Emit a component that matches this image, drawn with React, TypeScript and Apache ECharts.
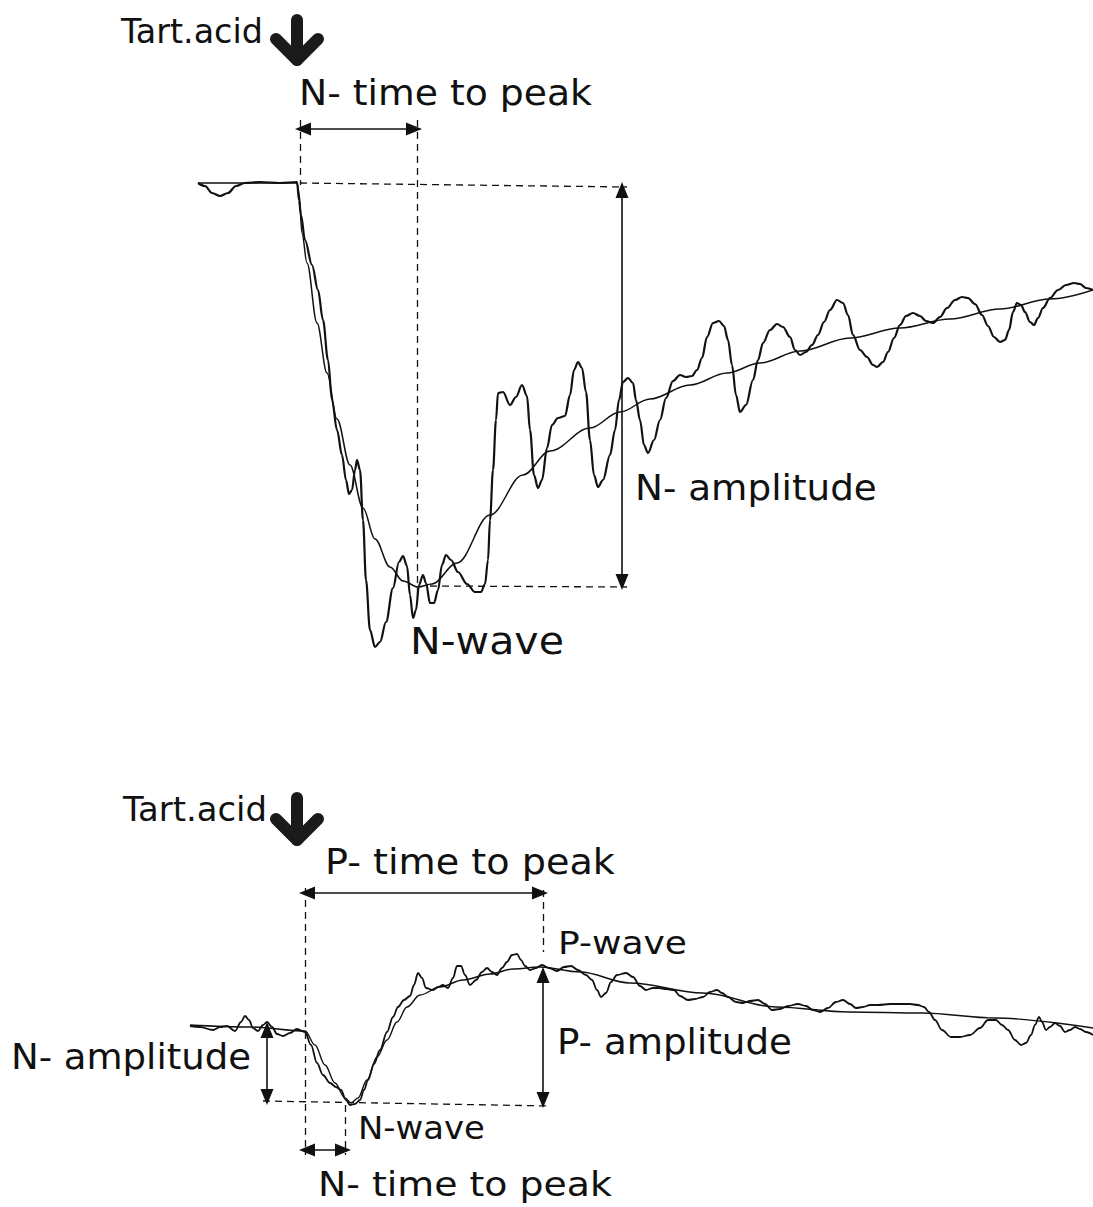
import React, { useEffect, useRef } from "react";
import * as echarts from "echarts";

// ---- Top panel: N-wave (time relative to acid application, amplitude relative to baseline)
const topRecording: [number, number][] = [
  [-102, 0], [-95, -3], [-88, -10], [-80, -13], [-72, -10], [-64, -3], [-55, 0], [-40, 1], [-20, 0], [-3, 1],
  [-1, -17], [1, -32], [5, -57], [12, -82], [18, -107], [23, -137], [28, -177], [32, -217], [37, -247], [42, -272],
  [46, -297], [49, -311], [52, -307], [55, -287], [57, -277], [60, -287], [63, -337], [66, -397], [70, -447], [75, -464],
  [80, -459], [86, -439], [93, -405], [99, -379], [103, -373], [107, -383], [110, -412], [113, -435], [116, -427], [119, -402],
  [123, -392], [126, -400], [130, -420], [134, -420], [138, -407], [142, -382], [146, -372], [151, -377], [158, -389], [167, -401],
  [175, -409], [181, -409], [185, -401], [188, -377], [190, -337], [193, -287], [196, -237], [198, -210], [203, -209], [210, -222],
  [216, -214], [222, -202], [227, -213], [230, -247], [234, -292], [238, -305], [242, -297], [247, -265], [252, -242], [258, -235],
  [265, -233], [270, -212], [274, -187], [278, -179], [282, -185], [286, -209], [290, -257], [294, -292], [298, -304], [303, -297],
  [310, -272], [315, -247], [319, -217], [323, -199], [328, -195], [333, -200], [336, -217], [340, -237], [344, -262], [348, -270],
  [354, -257], [360, -237], [366, -215], [373, -198], [380, -192], [386, -194], [392, -193], [397, -187], [402, -175], [407, -154],
  [413, -140], [419, -138], [424, -143], [428, -157], [432, -182], [436, -212], [440, -229], [446, -222], [453, -197], [458, -177],
  [463, -160], [470, -147], [477, -141], [483, -144], [490, -154], [495, -167], [500, -172], [506, -169], [512, -162], [518, -152],
  [524, -139], [530, -127], [537, -117], [543, -120], [548, -132], [553, -152], [560, -167], [567, -174], [573, -182], [577, -184],
  [583, -179], [588, -169], [594, -155], [600, -142], [606, -133], [613, -130], [620, -133], [626, -138], [633, -140], [640, -134],
  [647, -125], [655, -117], [662, -114], [668, -115], [675, -121], [682, -132], [688, -143], [694, -154], [700, -159], [705, -157],
  [709, -147], [713, -129], [717, -120], [721, -122], [725, -129], [730, -139], [734, -142], [738, -135], [743, -125], [750, -115],
  [758, -107], [766, -102], [774, -100], [780, -101], [786, -105], [793, -107],
];
const topFit: [number, number][] = [
  [-102, 0], [-3, 0], [-1, -10], [2, -50], [7, -80], [17, -140], [27, -190], [37, -236], [50, -282], [63, -325],
  [75, -356], [90, -384], [103, -398], [118, -404], [132, -401], [157, -380], [190, -332], [223, -292], [250, -268],
  [290, -245], [320, -229], [350, -216], [390, -202], [427, -190], [460, -180], [500, -168], [550, -155], [600, -145],
  [650, -136], [700, -126], [750, -116], [793, -107],
];
const topGuides: [number, number][][] = [
  [[0, 63], [0, -2]],
  [[117, 63], [117, -417]],
  [[0, 0], [327, -4]],
  [[130, -403], [327, -404]],
];
const topArrows: [number, number][][] = [
  [[3, 54], [114, 54]],
  [[322, -7], [322, -399]],
];

// ---- Bottom panel: N-wave followed by P-wave
const bottomRecording: [number, number][] = [
  [-115, 4], [-105, 3], [-92, 0], [-85, 3], [-78, 4], [-70, -1], [-64, 8], [-60, 14], [-56, 10], [-52, 2],
  [-47, -1], [-42, 5], [-38, 8], [-33, 3], [-28, -4], [-22, -6], [-15, -3], [-8, 1], [0, -2], [6, -15],
  [12, -33], [18, -45], [25, -53], [31, -57], [36, -60], [41, -70], [45, -75], [50, -74], [55, -70], [59, -60],
  [63, -50], [69, -34], [75, -20], [82, -2], [88, 13], [93, 23], [99, 30], [105, 34], [109, 45], [113, 57],
  [117, 52], [121, 42], [128, 40], [133, 43], [138, 45], [143, 42], [148, 52], [152, 64], [156, 64], [160, 55],
  [165, 45], [171, 50], [177, 58], [182, 62], [187, 58], [192, 55], [197, 62], [202, 68], [207, 75], [212, 76],
  [216, 70], [220, 64], [225, 60], [231, 62], [237, 65], [244, 62], [252, 59], [259, 63], [266, 64], [273, 60],
  [281, 55], [287, 50], [292, 40], [296, 33], [301, 37], [306, 48], [312, 55], [321, 57], [328, 53], [335, 44],
  [341, 40], [348, 42], [354, 42], [361, 41], [369, 40], [375, 34], [383, 30], [390, 31], [398, 33], [405, 38],
  [412, 40], [417, 37], [423, 33], [431, 28], [438, 27], [445, 29], [453, 30], [460, 26], [467, 20], [475, 21],
  [483, 24], [493, 26], [501, 24], [508, 20], [515, 18], [523, 22], [531, 28], [538, 30], [545, 26], [551, 22],
  [558, 23], [565, 25], [573, 25], [585, 26], [595, 26], [605, 26], [613, 25], [619, 23], [624, 18], [630, 10],
  [637, 0], [646, -7], [655, -7], [665, -5], [675, 2], [683, 10], [691, 10], [697, 5], [703, 0], [710, -10],
  [716, -15], [721, -13], [726, -5], [730, 5], [734, 13], [737, 8], [741, 0], [745, 3], [750, 7], [755, 4],
  [760, -2], [765, 0], [770, 3], [775, 1], [781, -2], [788, -5],
];
const bottomFit: [number, number][] = [
  [-115, 5], [-55, 3], [0, -1], [10, -15], [20, -35], [30, -53], [40, -68], [46, -73], [53, -68], [62, -50],
  [72, -27], [82, -10], [92, 8], [102, 23], [115, 35], [135, 43], [158, 50], [185, 56], [208, 61], [235, 63],
  [275, 58], [325, 47], [398, 37], [471, 23], [544, 18], [617, 17], [690, 12], [788, 2],
];
const bottomGuides: [number, number][][] = [
  [[0, 142], [0, -125]],
  [[40, -75], [40, -125]],
  [[238, 140], [238, 78]],
  [[-42, -71], [245, -76]],
];
const bottomArrows: [number, number][][] = [
  [[2, 137], [235, 137]],
  [[-38, 0], [-38, -67]],
  [[238, 55], [238, -70]],
  [[2, -120], [38, -120]],
];

const FONT = '"DejaVu Sans", sans-serif';
const INK = "#111";

function segs(list: [number, number][][]) {
  return list.map((s) => [{ coord: s[0] }, { coord: s[1] }]);
}

function traceSeries(data: [number, number][], idx: number, width: number, guides: any, arrows: boolean) {
  return {
    type: "line",
    xAxisIndex: idx,
    yAxisIndex: idx,
    data,
    showSymbol: false,
    symbol: "none",
    smooth: 0.35,
    smoothMonotone: "x",
    lineStyle: { color: INK, width },
    silent: true,
    markLine: {
      silent: true,
      symbol: arrows ? ["triangle", "triangle"] : ["none", "none"],
      symbolSize: arrows ? [13, 16] : 0,
      label: { show: false },
      lineStyle: arrows
        ? { color: INK, width: 1.6, type: "solid" }
        : { color: INK, width: 1.3, type: [7, 5] },
      emphasis: { disabled: true },
      data: segs(guides),
    },
  };
}

let measureCtx: CanvasRenderingContext2D | null = null;
function textWidth(text: string, font: string) {
  if (!measureCtx) measureCtx = document.createElement("canvas").getContext("2d");
  if (!measureCtx) return 0;
  measureCtx.font = font;
  return measureCtx.measureText(text).width;
}

// x = left edge, y = middle of the capitals, size = font size, w = wanted rendered width
function label(text: string, x: number, y: number, size: number, w: number) {
  const font = `${size}px ${FONT}`;
  const natural = textWidth(text, font);
  const sx = natural > 0 ? w / natural : 1;
  return {
    type: "text",
    x,
    y,
    scaleX: sx,
    silent: true,
    style: { text, font, fill: INK, textAlign: "left", textVerticalAlign: "middle" },
  };
}

function dropArrow(cx: number, top: number, tip: number) {
  const arm = 21;
  const common = { silent: true, style: { stroke: "#1a1a1a", lineWidth: 12, lineCap: "round" } };
  return [
    { type: "line", shape: { x1: cx, y1: top, x2: cx, y2: tip - 4 }, ...common },
    { type: "line", shape: { x1: cx - arm, y1: tip - arm, x2: cx, y2: tip }, ...common },
    { type: "line", shape: { x1: cx + arm, y1: tip - arm, x2: cx, y2: tip }, ...common },
  ];
}

export default function App() {
  const ref = useRef<HTMLDivElement>(null);
  useEffect(() => {
    if (!ref.current) return;
    const chart = echarts.init(ref.current, undefined, { renderer: "svg" });
    const hiddenAxis = {
      show: false,
      axisLine: { show: false },
      axisTick: { show: false },
      axisLabel: { show: false },
      splitLine: { show: false },
    };
    chart.setOption({
      animation: false,
      backgroundColor: "#fff",
      grid: [
        { left: 0, top: 0, width: 1093, height: 700 },
        { left: 0, top: 700, width: 1093, height: 507 },
      ],
      xAxis: [
        { type: "value", gridIndex: 0, min: -300, max: 793, ...hiddenAxis },
        { type: "value", gridIndex: 1, min: -305, max: 788, ...hiddenAxis },
      ],
      yAxis: [
        { type: "value", gridIndex: 0, min: -517, max: 183, ...hiddenAxis },
        { type: "value", gridIndex: 1, min: -177, max: 330, ...hiddenAxis },
      ],
      series: [
        traceSeries(topFit, 0, 1.5, topGuides, false),
        traceSeries(topRecording, 0, 2.2, topArrows, true),
        traceSeries(bottomFit, 1, 1.4, bottomGuides, false),
        traceSeries(bottomRecording, 1, 1.8, bottomArrows, true),
      ],
      graphic: [
        label("Tart.acid", 121, 32, 33, 142),
        ...dropArrow(297, 20, 60),
        label("N- time to peak", 299, 93, 36, 293),
        label("N- amplitude", 635, 488, 36, 242),
        label("N-wave", 410, 641, 37, 154),
        label("Tart.acid", 123, 810, 33, 144),
        ...dropArrow(297, 798, 840),
        label("P- time to peak", 325, 862, 36, 290),
        label("P-wave", 558, 943, 32, 129),
        label("P- amplitude", 557, 1042, 36, 235),
        label("N- amplitude", 11, 1057, 36, 240),
        label("N-wave", 358, 1128, 32, 127),
        label("N- time to peak", 318, 1184, 34, 294),
      ],
    });
    return () => chart.dispose();
  }, []);
  return (
    <div
      ref={ref}
      style={{ position: "fixed", left: 0, top: 0, width: 1093, height: 1207, background: "#fff" }}
    />
  );
}
